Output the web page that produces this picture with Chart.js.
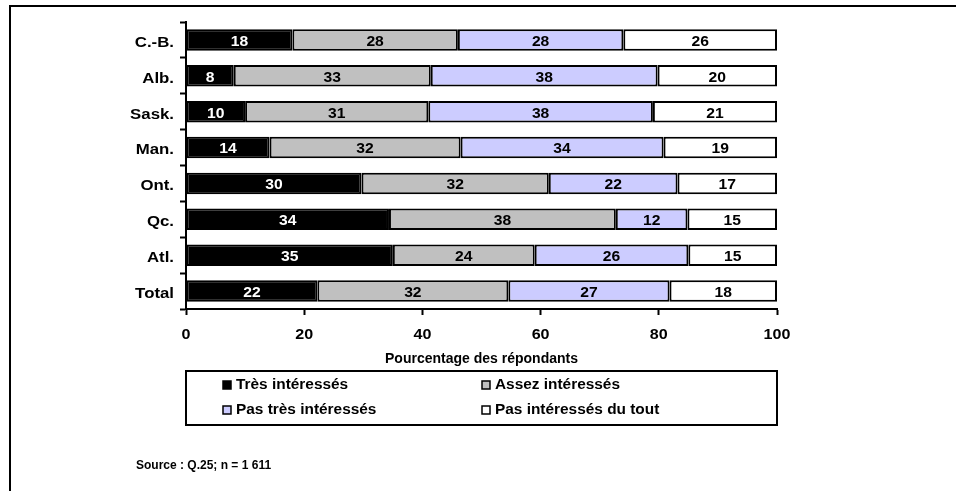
<!DOCTYPE html>
<html>
<head>
<meta charset="utf-8">
<script src="https://cdn.jsdelivr.net/npm/chart.js@4/dist/chart.umd.min.js"></script>
<style>
  html, body { margin: 0; padding: 0; background: #fff; }
  #wrap { width: 956px; height: 491px; position: relative; }
</style>
</head>
<body>
<div id="wrap"><canvas id="myChart" width="956" height="491"></canvas></div>
<script>
var regions = ["C.-B.", "Alb.", "Sask.", "Man.", "Ont.", "Qc.", "Atl.", "Total"];
var tresInteresses = [18, 8, 10, 14, 30, 34, 35, 22];
var assezInteresses = [28, 33, 31, 32, 32, 38, 24, 32];
var pasTresInteresses = [28, 38, 38, 34, 22, 12, 26, 27];
var pasDuTout = [26, 20, 21, 19, 17, 15, 15, 18];
var xTicks = [0, 20, 40, 60, 80, 100];

var FONT = "'Liberation Sans', Arial, sans-serif";

// 100% stacked: each row is shown as a share of its own total
var rowTotals = regions.map(function (r, i) {
    return tresInteresses[i] + assezInteresses[i] + pasTresInteresses[i] + pasDuTout[i];
});
function share(values) {
    return values.map(function (v, i) { return v / rowTotals[i] * 100; });
}

function serie(label, values, color, textColor) {
    return {
        label: label,
        data: share(values),
        raw: values,
        backgroundColor: color,
        borderColor: "#000",
        borderWidth: 2,
        borderSkipped: false,
        barPercentage: 0.6,
        categoryPercentage: 1,
        textColor: textColor
    };
}

// bold text, optionally widened horizontally by sx
function wideText(c, text, x, y, align, size, sx) {
    c.save();
    c.font = "bold " + size + "px " + FONT;
    c.translate(x, y);
    c.scale(sx, 1);
    c.textAlign = align;
    c.fillText(text, 0, 0);
    c.restore();
}

var extras = {
    id: 'extras',
    afterDatasetsDraw: function (chart) {
        var c = chart.ctx;
        c.save();
        c.textBaseline = 'middle';
        chart.data.datasets.forEach(function (ds, i) {
            chart.getDatasetMeta(i).data.forEach(function (bar, j) {
                c.fillStyle = ds.textColor;
                wideText(c, ds.raw[j], (bar.x + bar.base) / 2, bar.y + 2, 'center', 14, 1.12);
            });
        });
        c.restore();
    },
    afterDraw: function (chart) {
        var c = chart.ctx;
        var area = chart.chartArea;
        var xs = chart.scales.x, ys = chart.scales.y;
        c.save();
        // outer frame (only top and left edges fall on the canvas)
        c.strokeStyle = "#000";
        c.lineWidth = 2;
        c.beginPath();
        c.moveTo(10, 491);
        c.lineTo(10, 6);
        c.lineTo(956, 6);
        c.stroke();

        c.fillStyle = "#000";
        c.textBaseline = 'middle';

        // axis labels
        regions.forEach(function (r, i) {
            wideText(c, r, area.left - 12, ys.getPixelForValue(i) + 3, 'right', 14, 1.2);
        });
        xTicks.forEach(function (v) {
            wideText(c, String(v), xs.getPixelForValue(v), 335, 'center', 14, 1.15);
        });
        wideText(c, "Pourcentage des répondants", (area.left + area.right) / 2, 359, 'center', 14, 1);

        // legend
        c.lineWidth = 2;
        c.strokeRect(area.left, 371, area.right - area.left, 54);
        var cols = [223, 482], rows = [385, 410];
        chart.data.datasets.forEach(function (ds, i) {
            var x = cols[i % 2], y = rows[Math.floor(i / 2)];
            c.fillStyle = ds.backgroundColor;
            c.fillRect(x, y - 4, 8, 8);
            c.lineWidth = 1.5;
            c.strokeStyle = "#000";
            c.strokeRect(x, y - 4, 8, 8);
            c.fillStyle = "#000";
            wideText(c, ds.label, x + 13, y, 'left', 14, 1.1);
        });

        wideText(c, "Source : Q.25; n = 1 611", 136, 466, 'left', 12, 1);
        c.restore();
    }
};

var ctx = document.getElementById('myChart').getContext('2d');
var myChart = new Chart(ctx, {
    type: 'bar',
    data: {
        labels: regions,
        datasets: [
            serie("Très intéressés", tresInteresses, "#000000", "#ffffff"),
            serie("Assez intéressés", assezInteresses, "#c0c0c0", "#000000"),
            serie("Pas très intéressés", pasTresInteresses, "#ccccff", "#000000"),
            serie("Pas intéressés du tout", pasDuTout, "#ffffff", "#000000")
        ]
    },
    options: {
        indexAxis: 'y',
        responsive: false,
        animation: false,
        layout: { padding: { top: 22, right: 179, left: 0, bottom: 0 } },
        scales: {
            x: {
                stacked: true,
                min: 0,
                max: 100,
                afterBuildTicks: function (scale) {
                    scale.ticks = xTicks.map(function (v) { return { value: v }; });
                },
                afterFit: function (scale) { scale.height = 491 - 22 - 287; },
                border: { color: "#000", width: 2 },
                grid: { drawOnChartArea: false, drawTicks: true, tickLength: 6, tickColor: "#000", tickWidth: 2 },
                ticks: { display: false }
            },
            y: {
                stacked: true,
                afterFit: function (scale) { scale.width = 186; },
                border: { color: "#000", width: 2 },
                grid: { offset: true, drawOnChartArea: false, drawTicks: true, tickLength: 6, tickColor: "#000", tickWidth: 2 },
                ticks: { display: false }
            }
        },
        plugins: {
            legend: { display: false },
            tooltip: { enabled: false }
        }
    },
    plugins: [extras]
});
</script>
</body>
</html>
